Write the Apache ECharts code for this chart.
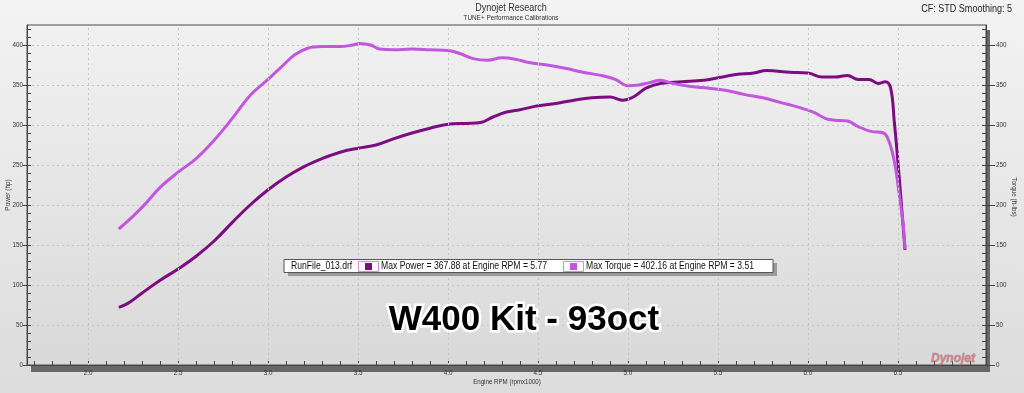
<!DOCTYPE html>
<html>
<head>
<meta charset="utf-8">
<script src="https://cdn.jsdelivr.net/npm/echarts@6/dist/echarts.min.js"></script>
<style>
html,body{margin:0;padding:0;}
body{width:1024px;height:393px;background:linear-gradient(#f3f3f3,#dcdcdc);}
#c{width:1024px;height:393px;}
</style>
</head>
<body>
<div id="c"></div>
<script>
// ---- data ----
const powerRpm = [2.17,2.22,2.30,2.40,2.50,2.60,2.70,2.80,2.90,3.00,3.10,3.20,3.30,3.40,3.50,3.60,3.70,3.80,3.90,4.00,4.10,4.18,4.25,4.32,4.40,4.50,4.60,4.70,4.80,4.90,4.97,5.03,5.10,5.18,5.30,5.42,5.50,5.60,5.70,5.77,5.90,6.00,6.08,6.15,6.22,6.28,6.34,6.39,6.43,6.46,6.48,6.50,6.52,6.54];
const powerHp = [72,77,90,106,120,136,155,178,200,219,235,248,258,266,271,275,283,290,296,301,302,303,310,316,319,324,327,331,334,335,331,335,346,352,354,356,359,363,365,368,366,365,360,360,362,357,357,352,354,346,305,255,200,144];
const torqueRpm = [2.17,2.25,2.32,2.40,2.50,2.60,2.70,2.80,2.90,3.00,3.08,3.15,3.22,3.30,3.40,3.47,3.51,3.57,3.62,3.70,3.80,3.90,4.00,4.07,4.14,4.22,4.30,4.38,4.45,4.55,4.65,4.75,4.85,4.93,5.00,5.06,5.12,5.18,5.25,5.35,5.45,5.55,5.65,5.75,5.85,5.95,6.03,6.10,6.15,6.22,6.28,6.35,6.42,6.45,6.48,6.51,6.53,6.54];
const torqueLbft = [170,186,202,222,241,258,281,308,337,357,374,388,396,398,398,400,402,400,395,394,395,394,393,389,383,381,384,382,378,375,371,366,362,357,349,350,353,356,352,348,346,343,338,334,328,322,316,308,306,305,298,292,290,280,255,210,175,145];

const xMajorTicks = [2.0,2.5,3.0,3.5,4.0,4.5,5.0,5.5,6.0,6.5];
const xMinorTicks = [1.7,1.8,1.9,2.0,2.1,2.2,2.3,2.4,2.5,2.6,2.7,2.8,2.9,3.0,3.1,3.2,3.3,3.4,3.5,3.6,3.7,3.8,3.9,4.0,4.1,4.2,4.3,4.4,4.5,4.6,4.7,4.8,4.9,5.0,5.1,5.2,5.3,5.4,5.5,5.6,5.7,5.8,5.9,6.0,6.1,6.2,6.3,6.4,6.5,6.6,6.7,6.8,6.9];
const yMajorTicks = [0,50,100,150,200,250,300,350,400];
const yMinorTicks = [0,10,20,30,40,50,60,70,80,90,100,110,120,130,140,150,160,170,180,190,200,210,220,230,240,250,260,270,280,290,300,310,320,330,340,350,360,370,380,390,400,410,420];

const titleText = 'Dynojet Research';
const subtitleText = 'TUNE+ Performance Calibrations';
const cornerText = 'CF: STD Smoothing: 5';
const bigText = 'W400 Kit - 93oct';
const legendFile = 'RunFile_013.drf';
const legendPower = 'Max Power = 367.88 at Engine RPM = 5.77';
const legendTorque = 'Max Torque = 402.16 at Engine RPM = 3.51';

const powerColor = '#7d0c83';
const torqueColor = '#c356df';
const FONT = '"Liberation Sans", Arial, sans-serif';
const SQ = 0.82; // horizontal squeeze to imitate the narrow UI font

const zip = (a, b) => a.map((v, i) => [v, b[i]]);

const chart = echarts.init(document.getElementById('c'), null, {renderer: 'canvas'});

const yBase = {
  type: 'value', min: 0, max: 425, interval: 50,
  axisLine: {show: true, lineStyle: {color: '#444', width: 1}},
  splitLine: {show: false}
};

function txt(x, y, text, size, opts) {
  opts = opts || {};
  return {
    type: 'text', x: x, y: y, z: opts.z || 10, silent: true,
    rotation: opts.rotation || 0, scaleX: SQ, scaleY: 1,
    style: {text: text, font: size + 'px ' + FONT, fill: opts.fill || '#333',
            align: opts.align || 'left', verticalAlign: opts.va || 'middle'}
  };
}

const option = {
  backgroundColor: 'transparent',
  animation: false,
  grid: {
    left: 27, right: 38, top: 25, bottom: 28,
    show: true,
    borderColor: '#4a4a4a', borderWidth: 1,
    backgroundColor: new echarts.graphic.LinearGradient(0, 0, 0, 1, [
      {offset: 0, color: '#f1f1f1'}, {offset: 1, color: '#d9d9d9'}
    ])
  },
  xAxis: [{
    type: 'value', min: 1.66, max: 6.99,
    axisLine: {show: true, lineStyle: {color: '#444'}},
    axisTick: {show: true, inside: true, length: 4, customValues: xMinorTicks, lineStyle: {color: '#444'}},
    axisLabel: {customValues: xMajorTicks, formatter: v => v.toFixed(1), fontSize: 6.3, color: '#333', margin: 5, fontFamily: FONT},
    splitLine: {show: false}
  }],
  yAxis: [
    Object.assign({}, yBase, {
      position: 'left',
      axisTick: {show: true, inside: false, length: 4, customValues: yMajorTicks, lineStyle: {color: '#444'}},
      axisLabel: {customValues: yMajorTicks, fontSize: 6.3, color: '#333', margin: 4, fontFamily: FONT},
      splitLine: {show: true, lineStyle: {color: '#c4c4c4', type: [2, 3], width: 1}}
    }),
    Object.assign({}, yBase, {
      position: 'right',
      axisTick: {show: true, inside: false, length: 9, customValues: yMajorTicks, lineStyle: {color: '#444'}},
      axisLabel: {customValues: yMajorTicks, fontSize: 6.3, color: '#333', margin: 10, fontFamily: FONT}
    }),
    Object.assign({}, yBase, {
      position: 'left',
      axisLine: {show: false},
      axisTick: {show: true, inside: true, length: 4, customValues: yMinorTicks, lineStyle: {color: '#444'}},
      axisLabel: {show: false}
    }),
    Object.assign({}, yBase, {
      position: 'right',
      axisLine: {show: false},
      axisTick: {show: true, inside: true, length: 4, customValues: yMinorTicks, lineStyle: {color: '#444'}},
      axisLabel: {show: false}
    })
  ],
  series: [
    {
      type: 'line', data: [], xAxisIndex: 0, yAxisIndex: 0, z: 1, silent: true,
      markLine: {
        silent: true, symbol: ['none', 'none'], label: {show: false},
        lineStyle: {color: '#c4c4c4', type: [2, 3], width: 1},
        data: xMajorTicks.map(v => ({xAxis: v}))
      }
    },
    {
      name: 'Power', type: 'line', yAxisIndex: 0, z: 3,
      data: zip(powerRpm, powerHp),
      showSymbol: false, smooth: 0.4,
      lineStyle: {color: powerColor, width: 3},
      itemStyle: {color: powerColor}
    },
    {
      name: 'Torque', type: 'line', yAxisIndex: 1, z: 4,
      data: zip(torqueRpm, torqueLbft),
      showSymbol: false, smooth: 0.4,
      lineStyle: {color: torqueColor, width: 3},
      itemStyle: {color: torqueColor}
    }
  ],
  graphic: [
    // plot frame shadow
    {type: 'rect', z: -10, silent: true, shape: {x: 31, y: 30, width: 959, height: 342}, style: {fill: '#686868'}},
    txt(511, 8, titleText, 11, {align: 'center'}),
    txt(511, 18, subtitleText, 7.8, {align: 'center'}),
    txt(1012, 9, cornerText, 11, {align: 'right', fill: '#222'}),
    txt(8, 195, 'Power (hp)', 7.8, {align: 'center', rotation: Math.PI / 2}),
    txt(1014, 197, 'Torque (ft-lbs)', 7.8, {align: 'center', rotation: -Math.PI / 2}),
    txt(507, 382, 'Engine RPM (rpmx1000)', 7.5, {align: 'center'}),
    // legend box
    {type: 'rect', shape: {x: 288, y: 263, width: 489, height: 13}, style: {fill: '#9a9a9a'}, z: 20},
    {type: 'rect', shape: {x: 284, y: 259.5, width: 489, height: 13}, style: {fill: '#fff', stroke: '#555', lineWidth: 1}, z: 21},
    txt(291, 266.5, legendFile, 10.5, {fill: '#111', z: 22}),
    {type: 'rect', shape: {x: 358.5, y: 261.5, width: 20, height: 10}, style: {fill: '#fff', stroke: '#d28ce0', lineWidth: 1}, z: 22},
    {type: 'rect', shape: {x: 365, y: 263, width: 7, height: 7}, style: {fill: powerColor}, z: 23},
    txt(381, 266.5, legendPower, 10.5, {fill: '#111', z: 22}),
    {type: 'rect', shape: {x: 563.5, y: 261.5, width: 20, height: 10}, style: {fill: '#fff', stroke: '#d28ce0', lineWidth: 1}, z: 22},
    {type: 'rect', shape: {x: 570, y: 263, width: 7, height: 7}, style: {fill: torqueColor}, z: 23},
    txt(586, 266.5, legendTorque, 10.5, {fill: '#111', z: 22}),
    // big label
    {type: 'text', x: 524, y: 320, style: {text: bigText, font: 'bold 35px ' + FONT, fill: '#000', stroke: '#fff', lineWidth: 5, align: 'center', verticalAlign: 'middle', shadowColor: 'rgba(0,0,0,0.35)', shadowBlur: 3, shadowOffsetY: 1}, z: 30},
    // logo
    {type: 'text', x: 953, y: 359, style: {text: 'Dynojet', font: 'italic bold 12px ' + FONT, fill: 'rgba(222,70,80,0.55)', stroke: 'rgba(150,150,150,0.5)', lineWidth: 1, align: 'center', verticalAlign: 'middle'}, z: 9}
  ]
};
chart.setOption(option);
</script>
</body>
</html>
